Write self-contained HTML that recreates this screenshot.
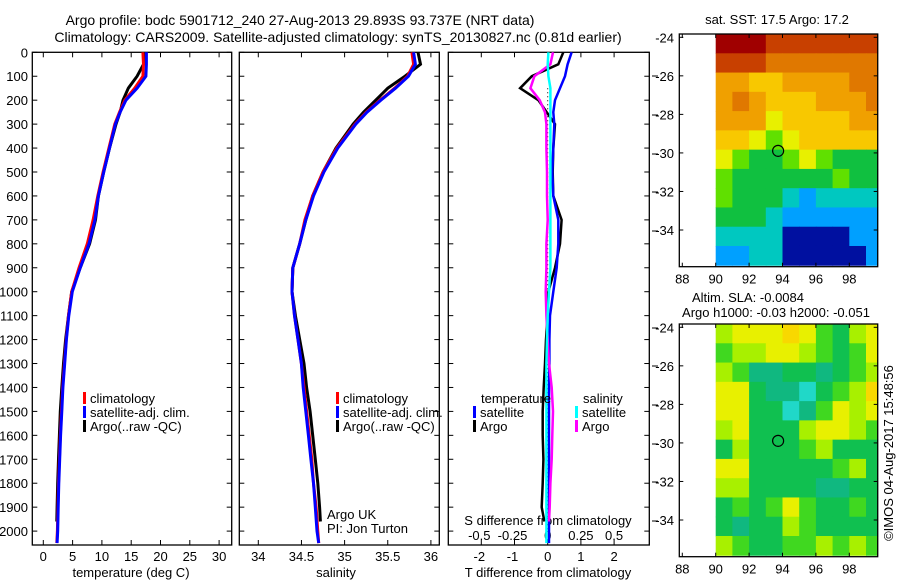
<!DOCTYPE html>
<html><head><meta charset="utf-8"><style>
body{margin:0;background:#fff}
svg{display:block;font-family:"Liberation Sans",sans-serif;font-size:13px}
</style></head><body>
<svg id="s" width="900" height="580" viewBox="0 0 900 580">
<text x="300" y="25" text-anchor="middle" font-size="14">Argo profile: bodc 5901712_240 27-Aug-2013 29.893S 93.737E (NRT data)</text>
<text x="338" y="42" text-anchor="middle" font-size="14">Climatology: CARS2009. Satellite-adjusted climatology: synTS_20130827.nc (0.81d earlier)</text>
</svg>
<script>
// ---- data ----
const depthsT=[0,50,100,150,200,250,300,400,500,600,700,800,900,1000,1100,1200,1300,1400,1500,1600,1700,1800,1900,2000,2050];
const tempClim=[17.0,17.1,17.0,15.6,13.9,13.0,12.2,11.2,10.2,9.3,8.5,7.5,6.1,4.85,4.3,3.9,3.6,3.3,3.1,2.9,2.75,2.6,2.5,2.4,2.3];
const tempSat=[17.6,17.6,17.5,16.0,14.1,13.1,12.3,11.3,10.3,9.4,8.8,7.8,6.3,4.95,4.35,3.95,3.65,3.35,3.15,2.95,2.8,2.65,2.55,2.45,2.35];
const depthsArgo=[0,50,100,150,200,250,300,400,500,600,700,800,900,1000,1100,1200,1300,1400,1500,1600,1700,1800,1900,1960];
const tempArgo=[17.3,17.1,16.0,14.5,13.6,13.1,12.4,11.3,10.3,9.4,8.9,7.9,6.3,4.85,4.3,3.8,3.45,3.15,2.9,2.75,2.6,2.45,2.35,2.3];
const salClim=[35.78,35.8,35.73,35.58,35.41,35.25,35.12,34.91,34.75,34.63,34.54,34.48,34.4,34.39,34.42,34.46,34.5,34.53,34.56,34.59,34.62,34.64,34.67,34.69,34.7];
const salSat=[35.8,35.82,35.74,35.59,35.42,35.26,35.13,34.92,34.76,34.64,34.55,34.48,34.4,34.39,34.42,34.46,34.5,34.52,34.55,34.58,34.61,34.64,34.66,34.68,34.7];
const salArgo=[35.85,35.88,35.7,35.5,35.36,35.22,35.1,34.9,34.75,34.63,34.55,34.48,34.4,34.39,34.43,34.48,34.53,34.56,34.6,34.63,34.66,34.69,34.71,34.72];
const dTsat=[0.72,0.6,0.52,0.37,0.22,0.17,0.2,0.17,0.14,0.17,0.32,0.32,0.27,0.17,0.07,0.05,0.05,0.04,0.04,0.04,0.04,0.04,0.04,0.04,0.04];
const dTargo=[0.47,0.32,-0.48,-0.83,-0.28,-0.03,0.22,0.17,0.15,0.17,0.42,0.37,0.22,0.02,0.0,-0.05,-0.08,-0.12,-0.15,-0.15,-0.13,-0.15,-0.18,-0.1];
const dSsat=[0.005,0.0,0.005,0.02,0.02,0.02,0.02,0.02,0.02,0.02,0.02,0.02,0.02,0.01,0.0,-0.005,-0.01,-0.01,-0.01,-0.01,-0.01,-0.01,-0.01,-0.01,-0.01];
const dSargo=[0.04,0.02,-0.1,-0.13,-0.06,-0.02,-0.01,-0.01,-0.005,-0.005,0.0,-0.01,-0.01,-0.015,-0.01,0.0,0.01,0.03,0.04,0.035,0.03,0.02,0.015,0.01];
const depthTicks=[0,100,200,300,400,500,600,700,800,900,1000,1100,1200,1300,1400,1500,1600,1700,1800,1900,2000];
const tempTicks=[0,5,10,15,20,25,30];
const salTicks=[34,34.5,35,35.5,36];
const salTickLabels=["34","34.5","35","35.5","36"];
const dTTicks=[-2,-1,0,1,2];
const dSTicks=[-0.5,-0.25,0,0.25,0.5];
const dSTickLabels=["-0.5","-0.25","0","0.25","0.5"];
const lonTicks=[88,90,92,94,96,98];
const latTicks=[-24,-26,-28,-30,-32,-34];
const argoLon=93.737, argoLat=-29.893;
const sstGrid=[
[10,10,10,9,9,9,9,9,9,9],
[9,9,9,8,8,8,8,8,8,8],
[7,7,6,6,7,7,7,7,8,8],
[7,8,7,6,6,6,7,7,7,8],
[7,7,7,5,6,6,6,6,7,7],
[6,6,5,4,5,6,6,6,6,6],
[5,4,3,3,4,5,4,3,3,3],
[4,3,3,3,3,3,3,4,3,3],
[4,3,3,3,2,1,2,2,2,2],
[3,3,3,2,1,1,1,1,1,1],
[2,2,2,2,0,0,0,0,1,1],
[1,1,2,2,0,0,0,0,0,1]];
const slaGrid=[
[4,5,5,5,6,5,3,2,4,5],
[3,4,4,5,5,4,3,2,3,5],
[4,3,1,1,2,2,1,2,3,4],
[5,5,2,1,1,0,2,3,4,6],
[5,5,2,2,0,1,3,5,4,5],
[4,5,2,2,2,4,5,5,4,3],
[2,4,2,2,2,3,4,2,2,2],
[5,5,2,2,2,2,2,3,4,2],
[4,4,2,2,2,2,1,1,2,2],
[2,3,2,3,5,3,2,2,3,2],
[2,1,2,2,4,3,2,2,2,2],
[4,3,2,2,3,3,4,3,4,3]];
const sstColors=["#0010a0","#00a0ff","#00c8c0","#10c040","#60e000","#e8f000","#f8c800","#f0a000","#e07800","#c84000","#a00000"];
const slaColors=["#20d8c8","#10b880","#10c050","#40d820","#a8f000","#e8f000","#f8d800"];

const svg=document.getElementById('s');
const NS="http://www.w3.org/2000/svg";
function mk(tag,attrs,parent){const e=document.createElementNS(NS,tag);for(const k in attrs)e.setAttribute(k,attrs[k]);(parent||svg).appendChild(e);return e;}
function txt(x,y,s,anchor,parent){const t=mk('text',{x:x,y:y,'text-anchor':anchor||'start'},parent);t.textContent=s;return t;}

const plotTop=52.3, plotBot=545, ppm=0.2394;
const yD=d=>plotTop+d*ppm;
const xT=v=>43.3+v*5.86;
const xS=v=>258.3+(v-34)*86.3;
const xdT=v=>547.7+v*33.2;
const xdS=v=>547.7+v*4*33.2;

function frame(x0,x1,name){
  const r=mk('rect',{x:x0,y:plotTop,width:x1-x0,height:plotBot-plotTop,fill:'none',stroke:'#000','stroke-width':1.3});
  
  
}
function line(xs,ds,fx,color,w,name){
  const pts=xs.map((v,i)=>fx(v).toFixed(1)+','+yD(ds[i]).toFixed(1)).join(' ');
  const p=mk('polyline',{points:pts,fill:'none',stroke:color,'stroke-width':w,'stroke-linejoin':'miter'});
  
  
}
const panels=[[32.3,231.7,'temperature-panel'],[239.3,439.3,'salinity-panel'],[448.3,649.3,'difference-panel']];
panels.forEach(p=>{frame(p[0],p[1],p[2]);
  depthTicks.forEach(d=>{mk('line',{x1:p[0],x2:p[0]+5,y1:yD(d),y2:yD(d),stroke:'#000'});mk('line',{x1:p[1]-5,x2:p[1],y1:yD(d),y2:yD(d),stroke:'#000'});});
});
depthTicks.forEach(d=>{const t=txt(28,yD(d)+5,String(d),'end');
  
  });
tempTicks.forEach(v=>{mk('line',{x1:xT(v),x2:xT(v),y1:plotBot,y2:plotBot-5,stroke:'#000'});mk('line',{x1:xT(v),x2:xT(v),y1:plotTop,y2:plotTop+5,stroke:'#000'});
  const t=txt(xT(v),561,String(v),'middle');
  
  });
let t=txt(131,577,'temperature (deg C)','middle');


salTicks.forEach((v,i)=>{mk('line',{x1:xS(v),x2:xS(v),y1:plotBot,y2:plotBot-5,stroke:'#000'});mk('line',{x1:xS(v),x2:xS(v),y1:plotTop,y2:plotTop+5,stroke:'#000'});
  const t=txt(xS(v),561,salTickLabels[i],'middle');
  
  });
t=txt(336,577,'salinity','middle');


dTTicks.forEach(v=>{mk('line',{x1:xdT(v),x2:xdT(v),y1:plotBot,y2:plotBot-5,stroke:'#000'});mk('line',{x1:xdT(v),x2:xdT(v),y1:plotTop,y2:plotTop+5,stroke:'#000'});
  const t=txt(xdT(v)+(v<0?-2:0),561,String(v),'middle');
  
  });
dSTicks.forEach((v,i)=>{const t=txt(xdS(v)+(v<0?-2:0),540,dSTickLabels[i],'middle');
  
  });
t=txt(548,525,'S difference from climatology','middle');


t=txt(548,577,'T difference from climatology','middle');


[76,115,154,192,231,328,366,405,444,482,521].forEach(y=>mk('line',{x1:652,x2:658,y1:y,y2:y,stroke:'#000'}));

line(tempArgo,depthsArgo,xT,'#000',3,'temperature-argo-line');
line(tempClim,depthsT,xT,'#f00',3,'temperature-climatology-line');
line(tempSat,depthsT,xT,'#00f',3,'temperature-satellite-line');
line(salArgo,depthsArgo,xS,'#000',3,'salinity-argo-line');
line(salClim,depthsT,xS,'#f00',3,'salinity-climatology-line');
line(salSat,depthsT,xS,'#00f',3,'salinity-satellite-line');
const z=mk('line',{x1:xdT(0),x2:xdT(0),y1:yD(150),y2:yD(2000),stroke:'#000','stroke-dasharray':'1,3'});


line(dTargo,depthsArgo,xdT,'#000',2.5,'t-diff-argo-line');
line(dTsat,depthsT,xdT,'#00f',2.5,'t-diff-satellite-line');
line(dSargo,depthsArgo,xdS,'#f0f',2.5,'s-diff-argo-line');
line(dSsat,depthsT,xdS,'#0ff',2.5,'s-diff-satellite-line');

function legend(x,y,color,label,name){
  const g=mk('g',{});
  
  
  mk('rect',{x:x,y:y-11,width:3,height:12,fill:color},g);txt(x+7,y,label,'start',g);
}
legend(83,403,'#f00','climatology','legend-temp-climatology');
legend(83,417,'#00f','satellite-adj. clim.','legend-temp-satellite');
legend(83,431,'#000','Argo(..raw -QC)','legend-temp-argo');
legend(336,403,'#f00','climatology','legend-sal-climatology');
legend(336,417,'#00f','satellite-adj. clim.','legend-sal-satellite');
legend(336,431,'#000','Argo(..raw -QC)','legend-sal-argo');
t=txt(481,403,'temperature');


t=txt(583,403,'salinity');


legend(473,417,'#00f','satellite','legend-t-satellite');
legend(473,431,'#000','Argo','legend-t-argo');
legend(575,417,'#0ff','satellite','legend-s-satellite');
legend(575,431,'#f0f','Argo','legend-s-argo');
t=txt(327,519,'Argo UK');


t=txt(327,533,'PI: Jon Turton');



function map(y0,grid,colors,name,lat24){
  const x0=679.3,x1=877.7,y1=y0+232.7;
  const xL=v=>682.3+(v-88)*16.7;
  const yL=v=>lat24+(-24-v)*19.27;
  const g=mk('g',{});
  
  
  grid.forEach((row,r)=>row.forEach((c,ci)=>{
    const lon=90+ci, lat=-24+0.17-r;
    const xa=Math.max(xL(lon),x0), xb=Math.min(xL(lon+1),x1);
    const ya=Math.max(yL(lat),y0), yb=Math.min(yL(lat-1),y1);
    if(xb>xa&&yb>ya){const cell=mk('rect',{x:xa,y:ya,width:xb-xa+0.5,height:yb-ya+0.5,fill:colors[c]},g);
      
      }
  }));
  mk('rect',{x:x0,y:y0,width:x1-x0,height:y1-y0,fill:'none',stroke:'#000','stroke-width':1.3},g);
  lonTicks.forEach(v=>{mk('line',{x1:xL(v),x2:xL(v),y1:y1,y2:y1-4,stroke:'#000'},g);mk('line',{x1:xL(v),x2:xL(v),y1:y0,y2:y0+4,stroke:'#000'},g);
    const t=txt(xL(v),y1+17,String(v),'middle',g);
    
    });
  latTicks.forEach(v=>{mk('line',{x1:x0,x2:x0+4,y1:yL(v),y2:yL(v),stroke:'#000'},g);mk('line',{x1:x1-4,x2:x1,y1:yL(v),y2:yL(v),stroke:'#000'},g);
    const t=txt(674,yL(v)+5,String(v),'end',g);
    
    });
  const c=mk('circle',{cx:xL(argoLon),cy:yL(argoLat),r:5.5,fill:'none',stroke:'#000','stroke-width':1.2},g);
  
  
}
map(34,sstGrid,sstColors,'sst-map',37.3);
map(324,slaGrid,slaColors,'sla-map',327.3);
t=txt(777,24,'sat. SST: 17.5 Argo: 17.2','middle');


t=txt(748,302,'Altim. SLA: -0.0084','middle');


t=txt(776,317,'Argo h1000: -0.03 h2000: -0.051','middle');


t=txt(0,0,'©IMOS 04-Aug-2017 15:48:56','middle');
t.setAttribute('transform','translate(893,453) rotate(-90)');


</script>
</body></html>
